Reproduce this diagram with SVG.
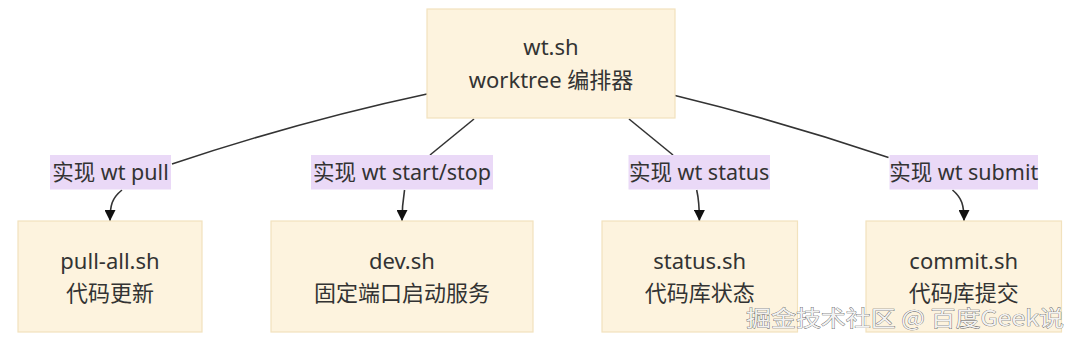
<svg xmlns="http://www.w3.org/2000/svg" width="1080" height="341" viewBox="0 0 1080 341">
  <defs>
    <style>
      .node rect { fill: #fdf3de; stroke: #f2e2bd; stroke-width: 1.2; }
      .node text { font-family: "Noto Sans", "Noto Sans CJK SC", sans-serif; font-size: 22px; fill: #333333; text-anchor: middle; }
      .edge { fill: none; stroke: #333333; stroke-width: 1.6; }
      .lbl rect { fill: #ead9f7; }
      .lbl text { font-family: "Noto Sans", "Noto Sans CJK SC", sans-serif; font-size: 21.5px; fill: #333333; text-anchor: middle; }
      .wm { font-family: "Noto Sans CJK SC", "Noto Sans", sans-serif; font-size: 22px; fill: #f2f2f2; stroke: #5a5a5a; stroke-width: 0.7; paint-order: stroke; }
    </style>
    <marker id="arrow" viewBox="0 0 10 10" refX="10" refY="5" markerWidth="11" markerHeight="11" markerUnits="userSpaceOnUse" orient="auto">
      <path d="M0,0 L10,5 L0,10 z" fill="#111111"/>
    </marker>
  </defs>
  <rect width="1080" height="341" fill="#ffffff"/>

  <g id="connectors">
    <path class="edge" d="M427,94 Q300.5,121 172,164"/>
    <path class="edge" d="M474,119 L430,155"/>
    <path class="edge" d="M629,119 L673,155"/>
    <path class="edge" d="M675,95.5 Q782,121.5 888.5,157.5"/>
    <path class="edge" d="M122,190 C112,198 110,205 110,221" marker-end="url(#arrow)"/>
    <path class="edge" d="M404.6,190 C403,200 402,205 402,221" marker-end="url(#arrow)"/>
    <path class="edge" d="M696.7,190 C699,200 699.4,205 699.4,221" marker-end="url(#arrow)"/>
    <path class="edge" d="M952.5,190 C962,198 964,205 964,221" marker-end="url(#arrow)"/>
  </g>

  <g id="edge-labels">
    <g class="lbl" id="label-pull">
      <rect x="50" y="155" width="121" height="34.5"/>
      <text x="110.5" y="180">实现 wt pull</text>
    </g>
    <g class="lbl" id="label-startstop">
      <rect x="311" y="155" width="182" height="34.5"/>
      <text x="402" y="180">实现 wt start/stop</text>
    </g>
    <g class="lbl" id="label-status">
      <rect x="628.5" y="155" width="141.5" height="34.5"/>
      <text x="699.2" y="180">实现 wt status</text>
    </g>
    <g class="lbl" id="label-submit">
      <rect x="889.5" y="155" width="148.5" height="34.5"/>
      <text x="963.7" y="180">实现 wt submit</text>
    </g>
  </g>

  <g class="node" id="node-wt">
    <rect x="427" y="9" width="248" height="109"/>
    <text x="551" y="55">wt.sh</text>
    <text x="551" y="88">worktree 编排器</text>
  </g>
  <g class="node" id="node-pull">
    <rect x="18" y="221" width="184" height="111"/>
    <text x="110" y="269">pull-all.sh</text>
    <text x="110" y="301">代码更新</text>
  </g>
  <g class="node" id="node-dev">
    <rect x="271" y="221" width="262" height="111"/>
    <text x="402" y="269">dev.sh</text>
    <text x="402" y="301">固定端口启动服务</text>
  </g>
  <g class="node" id="node-status">
    <rect x="602" y="221" width="195.5" height="111"/>
    <text x="699.7" y="269">status.sh</text>
    <text x="699.7" y="301">代码库状态</text>
  </g>
  <g class="node" id="node-commit">
    <rect x="866" y="221" width="195.5" height="111"/>
    <text x="963.7" y="269">commit.sh</text>
    <text x="963.7" y="301">代码库提交</text>
  </g>

  <text class="wm" x="746" y="326" textLength="318" lengthAdjust="spacingAndGlyphs">掘金技术社区 @ 百度Geek说</text>
</svg>
